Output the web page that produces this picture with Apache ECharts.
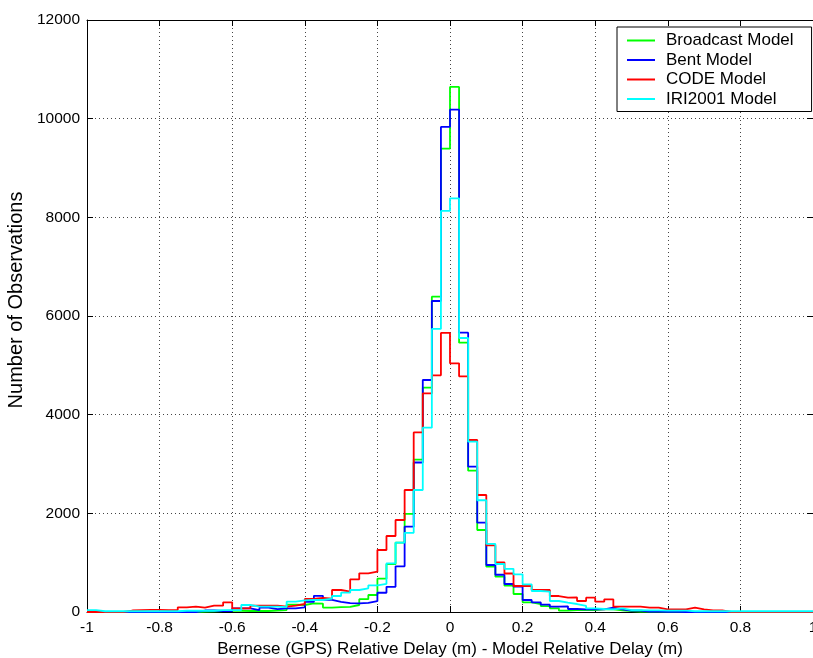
<!DOCTYPE html>
<html>
<head>
<meta charset="utf-8">
<script src="https://cdn.jsdelivr.net/npm/echarts@6/dist/echarts.min.js"></script>
<style>
  html, body { margin: 0; padding: 0; background: #fff; overflow: hidden; }
  #chart { width: 813px; height: 658px; }
</style>
</head>
<body>
<div id="chart"></div>
<script>
// Histogram bins: 80 bins of 0.025 m from -1 to 1 (values are counts per bin)
const binStart = -1;
const binWidth = 0.025;

const broadcast = [
  0, 0, 0, 0, 0, 0, 0, 0, 0, 0,
  0, 0, 10, 15, 20, 25, 25, 20, 20, 20,
  30, 40, 150, 142, 176, 170, 90, 100, 105, 142,
  260, 345, 676, 970, 1408, 1990, 3090, 4547, 6392, 9392,
  10643, 5459, 2865, 1662, 919, 716, 534, 365, 196, 162,
  120, 74, 27, 40, 40, 40, 54, 54, 34, 20,
  10, 10, 8, 5, 5, 0, 0, 0, 0, 0,
  0, 0, 0, 0, 0, 0, 0, 0, 0, 0
];

const bent = [
  0, 0, 0, 0, 0, 0, 0, 0, 0, 0,
  0, 0, 30, 30, 20, 20, 74, 74, 40, 88,
  60, 74, 74, 95, 205, 328, 245, 205, 180, 176,
  185, 220, 390, 510, 925, 1730, 3030, 4703, 6304, 9832,
  10183, 5662, 2946, 1811, 953, 755, 568, 514, 243, 196,
  150, 108, 115, 61, 54, 54, 54, 88, 54, 27,
  27, 10, 8, 5, 5, 0, 0, 0, 0, 0,
  0, 0, 0, 0, 0, 0, 0, 0, 0, 0
];

const code = [
  0, 0, 0, 0, 30, 40, 45, 45, 40, 40,
  95, 108, 88, 128, 128, 196, 74, 74, 128, 128,
  128, 108, 128, 162, 264, 284, 270, 446, 412, 662,
  784, 818, 1257, 1541, 1865, 2473, 3640, 4433, 4798, 5656,
  5041, 4777, 3486, 2372, 1350, 1007, 780, 527, 527, 446,
  446, 324, 290, 295, 223, 290, 209, 257, 108, 108,
  108, 88, 88, 54, 54, 54, 88, 54, 34, 34,
  0, 0, 0, 0, 0, 0, 0, 0, 0, 0
];

const iri2001 = [
  40, 15, 15, 15, 15, 15, 15, 15, 15, 15,
  25, 25, 25, 25, 40, 40, 40, 142, 108, 108,
  108, 100, 209, 236, 243, 243, 270, 324, 392, 446,
  480, 540, 568, 986, 1406, 1605, 2473, 3737, 5737, 8129,
  8386, 5554, 3452, 2265, 1380, 973, 875, 763, 561, 426,
  412, 223, 190, 162, 122, 74, 61, 54, 74, 40,
  40, 34, 34, 27, 27, 27, 15, 15, 15, 15,
  15, 15, 15, 15, 15, 15, 15, 15, 15, 15
];

const seriesNames = ['Broadcast Model', 'Bent Model', 'CODE Model', 'IRI2001 Model'];
const seriesColors = ['#00ff00', '#0000ff', '#ff0000', '#00ffff'];
const seriesValues = [broadcast, bent, code, iri2001];

const xTicks = { min: -1, max: 1, interval: 0.2 };
const yTicks = { min: 0, max: 12000, interval: 2000 };

// Build stair outline points: each bin's value starts at its left edge,
// with a final point at the right edge of the last bin.
function stairs(values) {
  const pts = values.map((v, i) => [+(binStart + i * binWidth).toFixed(3), v]);
  pts.push([+(binStart + values.length * binWidth).toFixed(3), values[values.length - 1]]);
  return pts;
}

const font = "'Liberation Sans', Arial, Helvetica, sans-serif";
const gridLine = { show: true, lineStyle: { color: '#444', type: [1, 3], width: 1 } };

function fmtX(v) {
  const r = Math.round(v * 10) / 10;
  if (Math.abs(r) < 1e-9) return '0';
  return String(r);
}
function fmtY(v) {
  return String(Math.round(v));
}

const chart = echarts.init(document.getElementById('chart'), null, { renderer: 'canvas' });
chart.setOption({
  animation: false,
  backgroundColor: '#fff',
  textStyle: { fontFamily: font },
  grid: { left: 87, top: 20, right: 0, bottom: 46, show: false, containLabel: false, outerBoundsMode: 'none' },
  legend: {
    orient: 'vertical',
    left: 617,
    top: 27,
    data: seriesNames,
    icon: 'rect',
    itemWidth: 28,
    itemHeight: 2,
    itemGap: 2.5,
    padding: [5, 18, 4, 10],
    borderColor: '#000',
    borderWidth: 1,
    borderRadius: 0,
    backgroundColor: '#fff',
    textStyle: { fontFamily: font, fontSize: 17, color: '#000', lineHeight: 17, padding: [0, 0, 0, 6] }
  },
  xAxis: [
    {
      type: 'value',
      min: xTicks.min, max: xTicks.max, interval: xTicks.interval,
      name: 'Bernese (GPS) Relative Delay (m) - Model Relative Delay (m)',
      nameLocation: 'middle',
      nameGap: 28,
      nameTextStyle: { fontFamily: font, fontSize: 17, color: '#000' },
      axisLine: { show: true, onZero: false, lineStyle: { color: '#000', width: 1 } },
      axisTick: { show: true, inside: true, length: 6, lineStyle: { color: '#000' } },
      axisLabel: { fontFamily: font, fontSize: 15.5, color: '#000', margin: 8, formatter: fmtX, showMaxLabel: true, showMinLabel: true },
      splitLine: gridLine
    },
    {
      type: 'value', position: 'top',
      min: xTicks.min, max: xTicks.max, interval: xTicks.interval,
      axisLine: { show: true, onZero: false, lineStyle: { color: '#000', width: 1 } },
      axisTick: { show: true, inside: true, length: 6, lineStyle: { color: '#000' } },
      axisLabel: { show: false },
      splitLine: { show: false }
    }
  ],
  yAxis: [
    {
      type: 'value',
      min: yTicks.min, max: yTicks.max, interval: yTicks.interval,
      name: 'Number of Observations',
      nameLocation: 'middle',
      nameGap: 53,
      nameTextStyle: { fontFamily: font, fontSize: 20, color: '#000', padding: [0, 0, 0, 32] },
      axisLine: { show: true, onZero: false, lineStyle: { color: '#000', width: 1 } },
      axisTick: { show: true, inside: true, length: 6, lineStyle: { color: '#000' } },
      axisLabel: { fontFamily: font, fontSize: 15.5, color: '#000', margin: 7, formatter: fmtY },
      splitLine: gridLine
    },
    {
      type: 'value', position: 'right',
      min: yTicks.min, max: yTicks.max, interval: yTicks.interval,
      axisLine: { show: true, onZero: false, lineStyle: { color: '#000', width: 1 } },
      axisTick: { show: true, inside: true, length: 6, lineStyle: { color: '#000' } },
      axisLabel: { show: false },
      splitLine: { show: false }
    }
  ],
  series: seriesNames.map((name, k) => ({
    name: name,
    type: 'line',
    step: 'end',
    data: stairs(seriesValues[k]),
    showSymbol: false,
    symbol: 'none',
    color: seriesColors[k],
    lineStyle: { color: seriesColors[k], width: 1.8 },
    z: 2 + k
  }))
});
</script>
</body>
</html>
